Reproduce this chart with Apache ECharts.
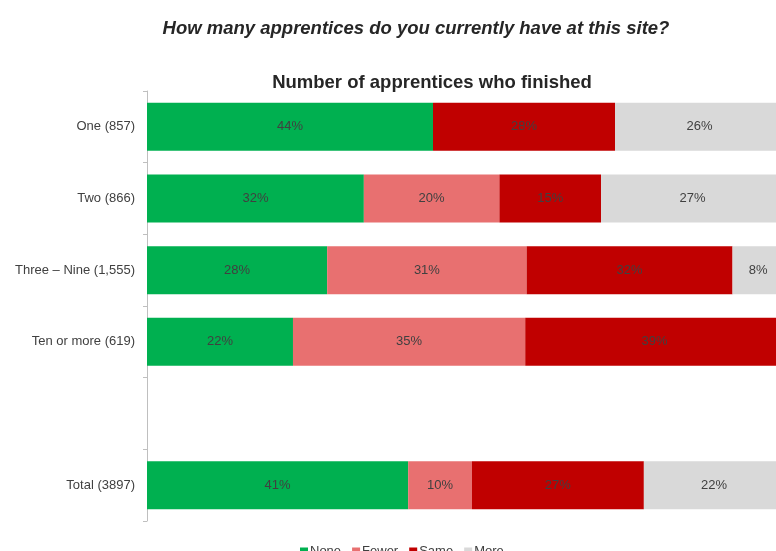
<!DOCTYPE html>
<html>
<head>
<meta charset="utf-8">
<script src="https://cdn.jsdelivr.net/npm/echarts@6/dist/echarts.min.js"></script>
<style>html,body{margin:0;padding:0;background:#fff;}#c{width:776px;height:551px;}</style>
</head>
<body>
<div id="c"></div>
<script>
const categories = ['One (857)', 'Two (866)', 'Three \u2013 Nine (1,555)', 'Ten or more (619)', '', 'Total (3897)'];
const seriesNames = ['None', 'Fewer', 'Same', 'More'];
const noneVals  = [44, 32, 28, 22, null, 41];
const fewerVals = [null, 20, 31, 35, null, 10];
const sameVals  = [28, 15, 32, 39, null, 27];
const moreVals  = [26, 27, 8, null, null, 22];
const colors = ['#00B050', '#E87070', '#C00000', '#D9D9D9'];

const raw = [noneVals, fewerVals, sameVals, moreVals];
// each bar fills 100% of its row (values shown are rounded shares)
const sums = categories.map((_, i) => raw.reduce((s, arr) => s + (arr[i] || 0), 0));
const FONT = 'Liberation Sans, Arial, sans-serif';
// the plot area runs past the right edge of the picture (100% at x≈784 px)
const visibleMax = 100 * 629 / 637;

const chart = echarts.init(document.getElementById('c'), null, {renderer: 'canvas'});
chart.setOption({
  animation: false,
  backgroundColor: '#ffffff',
  textStyle: {fontFamily: FONT},
  title: [
    {text: 'How many apprentices do you currently have at this site?', left: 416, top: 19, textAlign: 'center',
     padding: 0, textStyle: {fontFamily: FONT, fontSize: 18.5, fontWeight: 'bold', fontStyle: 'italic', color: '#262626'}},
    {text: 'Number of apprentices who finished', left: 432, top: 73, textAlign: 'center',
     padding: 0, textStyle: {fontFamily: FONT, fontSize: 18.5, fontWeight: 'bold', color: '#262626'}}
  ],
  legend: {
    data: seriesNames, top: 540, left: 295, itemWidth: 8, itemHeight: 8, itemGap: 11,
    icon: 'rect', textStyle: {fontFamily: FONT, fontSize: 13, color: '#404040', padding: [0, 0, 0, -3]}
  },
  grid: {left: 147, right: 0, top: 91, bottom: 30, containLabel: false},
  xAxis: {type: 'value', min: 0, max: visibleMax, show: false},
  yAxis: {
    type: 'category', data: categories, inverse: true,
    axisLine: {show: true, lineStyle: {color: '#BFBFBF', width: 1}},
    axisTick: {show: true, length: 4, lineStyle: {color: '#BFBFBF'}},
    axisLabel: {fontFamily: FONT, fontSize: 13, color: '#404040', margin: 12}
  },
  series: seriesNames.map((name, k) => ({
    name, type: 'bar', stack: 'total', barWidth: '67%', clip: false,
    itemStyle: {color: colors[k]},
    data: raw[k].map((v, i) => v == null ? null : v / sums[i] * 100),
    label: {
      show: true, position: 'inside', fontFamily: FONT, fontSize: 13, color: '#404040',
      formatter: p => raw[k][p.dataIndex] == null ? '' : raw[k][p.dataIndex] + '%'
    }
  }))
});
</script>
</body>
</html>
